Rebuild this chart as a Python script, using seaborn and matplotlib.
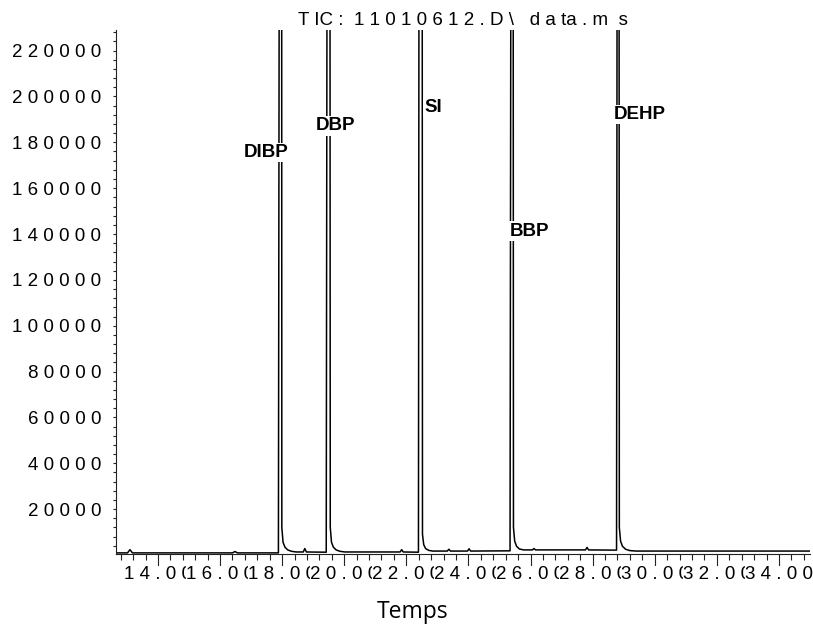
import numpy as np
import pandas as pd
import matplotlib
matplotlib.use("Agg")
import matplotlib.pyplot as plt
import seaborn as sns

# -------------------------------
# Data
# -------------------------------
# retention time (min) and TIC abundance; peak apexes run far off scale
rt = [12.65, 13.02, 13.10, 13.18, 16.40, 16.48, 16.56,
      17.88, 17.91, 17.985, 17.99, 18.03, 18.09, 18.18, 18.30, 18.45,
      18.68, 18.73, 18.78,
      19.42, 19.45, 19.54, 19.55, 19.59, 19.65, 19.74, 19.86, 20.02,
      21.80, 21.85, 21.90,
      22.39, 22.41, 22.51, 22.52, 22.56, 22.62, 22.72, 22.85,
      23.32, 23.37, 23.42, 23.97, 24.02, 24.07,
      25.34, 25.37, 25.44, 25.45, 25.49, 25.55, 25.64, 25.78,
      26.06, 26.11, 26.16, 27.77, 27.82, 27.87,
      28.77, 28.79, 28.85, 28.86, 28.90, 28.96, 29.06, 29.20, 29.40,
      35.00]
tic = [900, 900, 2300, 900, 900, 1500, 900,
       900, 300000, 300000, 12000, 5500, 3400, 2200, 1600, 1300,
       1300, 2800, 1300,
       1200, 300000, 300000, 12000, 5500, 3400, 2200, 1600, 1300,
       1300, 2300, 1300,
       1200, 300000, 300000, 9000, 4500, 2800, 2000, 1700,
       1700, 2500, 1700, 1700, 2700, 1700,
       1800, 300000, 300000, 12000, 6000, 3800, 2600, 2200,
       2200, 2800, 2200, 2200, 3300, 2200,
       2100, 300000, 300000, 12000, 6000, 3800, 2500, 1900, 1700,
       1700]

# peak labels and where they sit
peak_names = ["DIBP", "DBP", "SI", "BBP", "DEHP"]
label_x = [17.49, 19.73, 22.87, 25.96, 29.52]
label_y = [175600, 187200, 195200, 141300, 192200]

y_ticks = list(range(20000, 240000, 20000))
x_ticks = list(range(14, 36, 2))

df = pd.DataFrame({"rt": rt, "tic": tic})

sns.set_theme(style="white")
plt.rcParams['font.family'] = ['Liberation Sans', 'DejaVu Sans']
plt.rcParams['text.color'] = 'black'
plt.rcParams['xtick.color'] = 'black'
plt.rcParams['ytick.color'] = 'black'
plt.rcParams['axes.labelcolor'] = 'black'

fig = plt.figure(figsize=(8.13, 6.3), dpi=100)
ax = fig.add_axes([0.1427, 0.1213, 0.8536, 0.8311])

sns.lineplot(data=df, x="rt", y="tic", estimator=None, sort=False,
             color="black", linewidth=1.1, ax=ax)

ax.set_xlim(12.65, 35.0)
ax.set_ylim(600, 229000)

# y axis
ax.set_yticks(y_ticks)
ax.set_yticklabels([" ".join(str(v)) for v in y_ticks], fontsize=13.5)
ax.set_yticks(np.arange(4000, 229000, 4000), minor=True)
ax.tick_params(axis="y", which="both", direction="out", length=2.5,
               width=0.8, color="#222222", pad=8, left=True)

# x axis
ax.set_xticks(x_ticks)
ax.set_xticklabels([" ".join(f"{v:.2f}") for v in x_ticks], fontsize=13.5)
ax.set_xticks(np.arange(12.8, 35.0, 0.4), minor=True)
ax.tick_params(axis="x", which="major", direction="out", length=9,
               width=0.8, color="#222222", pad=0, bottom=True)
ax.tick_params(axis="x", which="minor", direction="out", length=4.5,
               width=0.8, color="#222222", bottom=True)
for lbl in ax.get_xticklabels():
    lbl.set_bbox(dict(facecolor="white", edgecolor="none", pad=0))

for side in ["top", "right"]:
    ax.spines[side].set_visible(False)
for side in ["left", "bottom"]:
    ax.spines[side].set_color("#222222")
    ax.spines[side].set_linewidth(0.8)

ax.set_xlabel("")
ax.set_ylabel("")
ax.set_title("T IC :  1 1 0 1 0 6 1 2 . D \\   d a ta . m  s",
             fontsize=13.5, pad=3.5, color="black")

# peak names with white boxes over the lines
for name, x, y in zip(peak_names, label_x, label_y):
    ax.text(x, y, name, ha="center", va="center", fontsize=13.5,
            fontweight="bold", color="black",
            bbox=dict(facecolor="white", edgecolor="none", pad=1))

fig.text(0.507, 0.028, "Temps", ha="center", va="center", fontsize=16.5,
         family=["Open Sans", "DejaVu Sans"], color="black")

fig.savefig("out.png", dpi=100)
